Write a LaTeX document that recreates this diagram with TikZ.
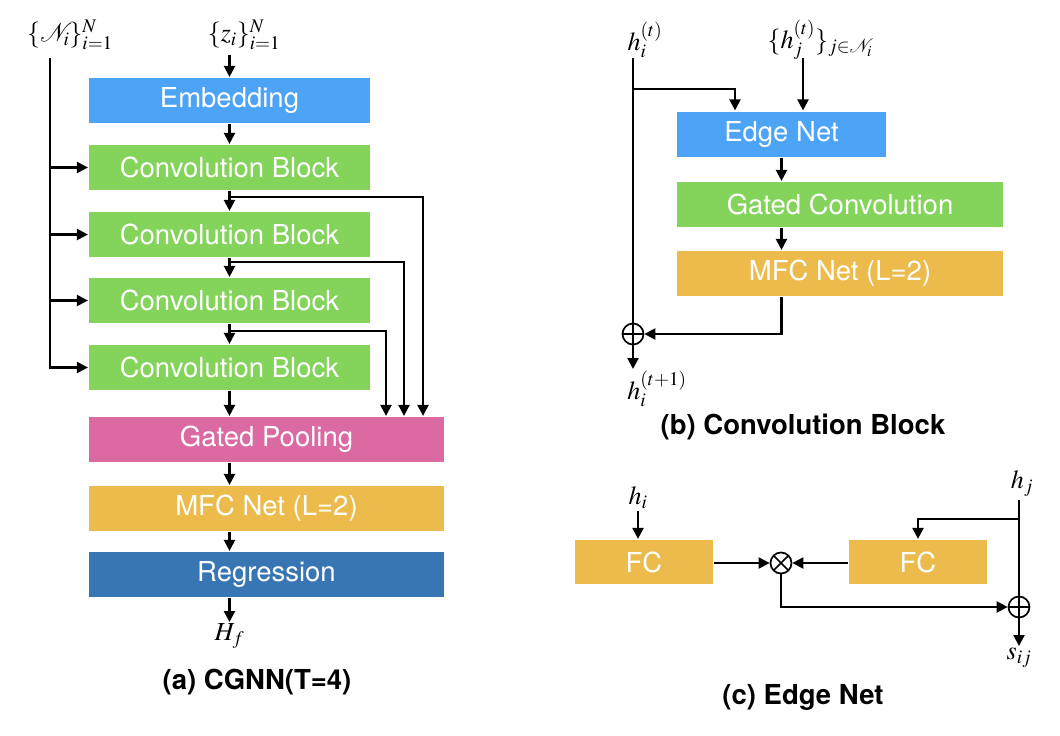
\documentclass[tikz,border=0pt]{standalone}
\usepackage{mathptmx}
\usepackage{fontspec}
\setmainfont{TeX Gyre Heros}
\usetikzlibrary{arrows.meta,calc}
\definecolor{cblue}{RGB}{77,163,245}
\definecolor{cgreen}{RGB}{132,212,92}
\definecolor{cpink}{RGB}{220,106,162}
\definecolor{corange}{RGB}{237,187,76}
\definecolor{cdark}{RGB}{55,117,179}
\begin{document}
\begin{tikzpicture}[x=1pt,y=-1pt,line width=2.2pt,
  box/.style={rectangle,inner sep=0pt,minimum height=45pt,text=white,font=\fontsize{27.5}{30}\selectfont},
  arr/.style={-{Triangle[length=11pt,width=11pt]}},
  mlab/.style={inner sep=1pt,font=\fontsize{26}{30}\selectfont},
  captext/.style={font=\bfseries\fontsize{27.5}{30}\selectfont},
  oplus/.style={circle,draw,minimum size=21pt,inner sep=0pt,line width=1.7pt,
    path picture={\draw[line width=1.7pt] (path picture bounding box.north) -- (path picture bounding box.south)
      (path picture bounding box.west) -- (path picture bounding box.east);}},
  otimes/.style={circle,draw,minimum size=21pt,inner sep=0pt,line width=1.7pt,
    path picture={\draw[line width=1.7pt] (path picture bounding box.north west) -- (path picture bounding box.south east)
      (path picture bounding box.south west) -- (path picture bounding box.north east);}}]
\useasboundingbox (0,0) rectangle (1060,736);

% ---------------- (a) CGNN ----------------
\node[box,fill=cblue,minimum width=281pt] (emb) at (229.5,100.5) {Embedding};
\node[box,fill=cgreen,minimum width=281pt] (c1) at (229.5,167.5) {Convolution Block};
\node[box,fill=cgreen,minimum width=281pt] (c2) at (229.5,234.5) {Convolution Block};
\node[box,fill=cgreen,minimum width=281pt] (c3) at (229.5,300.5) {Convolution Block};
\node[box,fill=cgreen,minimum width=281pt] (c4) at (229.5,367.5) {Convolution Block};
\node[box,fill=cpink,minimum width=355pt] (pool) at (266.5,439.5) {Gated Pooling};
\node[box,fill=corange,minimum width=355pt] (mfc) at (266.5,508.5) {MFC Net (L=2)};
\node[box,fill=cdark,minimum width=355pt] (reg) at (266.5,574.5) {Regression};

\node[mlab] (nlab) at (70,35) {$\{\mathcal{N}_i\}_{i=1}^{N}$};
\node[mlab] (zlab) at (244,35) {$\{z_i\}_{i=1}^{N}$};
\node[mlab,anchor=north] (hf) at (229.5,622) {$H_f$};
\node[captext] (capa) at (257,682) {(a) CGNN(T=4)};

\coordinate (ntop) at (50,58);
\coordinate (ztop) at (229.5,55);
\coordinate (k1) at (423,0);
\coordinate (k2) at (404,0);
\coordinate (k3) at (386,0);
\coordinate (s1) at (229.5,197);
\coordinate (s2) at (229.5,262);
\coordinate (s3) at (229.5,331);

\draw[arr] (ztop) -- (emb.north);
\draw[arr] (emb.south) -- (c1.north);
\draw[arr] (c1.south) -- (c2.north);
\draw[arr] (c2.south) -- (c3.north);
\draw[arr] (c3.south) -- (c4.north);
\draw[arr] (c4.south) -- (c4.south |- pool.north);
\draw[arr] (c4.south |- pool.south) -- (c4.south |- mfc.north);
\draw[arr] (c4.south |- mfc.south) -- (c4.south |- reg.north);
\draw[arr] (c4.south |- reg.south) -- (hf.north);

\draw[arr] (ntop) |- (c4.west);
\draw[arr] (ntop |- c1.west) -- (c1.west);
\draw[arr] (ntop |- c2.west) -- (c2.west);
\draw[arr] (ntop |- c3.west) -- (c3.west);

\draw[arr] (s1) -| (k1 |- pool.north);
\draw[arr] (s2) -| (k2 |- pool.north);
\draw[arr] (s3) -| (k3 |- pool.north);

% ---------------- (b) Convolution Block ----------------
\node[box,fill=cblue,minimum width=209pt] (edge) at (781.5,134) {Edge Net};
\node[box,fill=cgreen,minimum width=326pt] (gconv) at (840,204.5) {Gated Convolution};
\node[box,fill=corange,minimum width=326pt] (mfcb) at (840,273.5) {MFC Net (L=2)};
\node[oplus] (plusb) at (633,334) {};

\node[mlab] (hit) at (645,40) {$h_i^{(t)}$};
\node[mlab] (hjt) at (820,40) {$\{h_j^{(t)}\}_{j\in\mathcal{N}_i}$};
\node[mlab,anchor=north] (hnext) at (657,369) {$h_i^{(t+1)}$};
\node[captext] (capb) at (803,427) {(b) Convolution Block};

\coordinate (hitop) at (633,58);
\coordinate (hjtop) at (803,58);
\coordinate (br) at (633,89);
\coordinate (bx) at (735,0);
\coordinate (bend) at (0,369);

\draw (hitop) -- (plusb.north);
\draw[arr] (br) -| (bx |- edge.north);
\draw[arr] (hjtop) -- (hjtop |- edge.north);
\draw[arr] (edge.south) -- (edge.south |- gconv.north);
\draw[arr] (edge.south |- gconv.south) -- (edge.south |- mfcb.north);
\draw[arr] (edge.south |- mfcb.south) |- (plusb.east);
\draw[arr] (plusb.south) -- (plusb.south |- bend);

% ---------------- (c) Edge Net ----------------
\node[box,fill=corange,minimum width=138pt,minimum height=44pt] (fc1) at (644,562) {FC};
\node[box,fill=corange,minimum width=138pt,minimum height=44pt] (fc2) at (918,562) {FC};
\node[otimes] (times) at (781,563) {};
\node[oplus] (plusc) at (1019,607) {};

\node[mlab] (hic) at (638,498) {$h_i$};
\node[mlab] (hjc) at (1022,484) {$h_j$};
\node[mlab,anchor=north] (sij) at (1019,646) {$s_{ij}$};
\node[captext] (capc) at (803,697) {(c) Edge Net};

\coordinate (hjtopc) at (1019,500);
\coordinate (brc) at (1019,519);

\draw[arr] (hic.south) -- (hic.south |- fc1.north);
\draw (hjtopc) -- (plusc.north);
\draw[arr] (brc) -| (fc2.north);
\draw[arr] (fc1.east |- times) -- (times.west);
\draw[arr] (fc2.west |- times) -- (times.east);
\draw[arr] (times.south) |- (plusc.west);
\draw[arr] (plusc.south) -- (sij.north);
\end{tikzpicture}
\end{document}
